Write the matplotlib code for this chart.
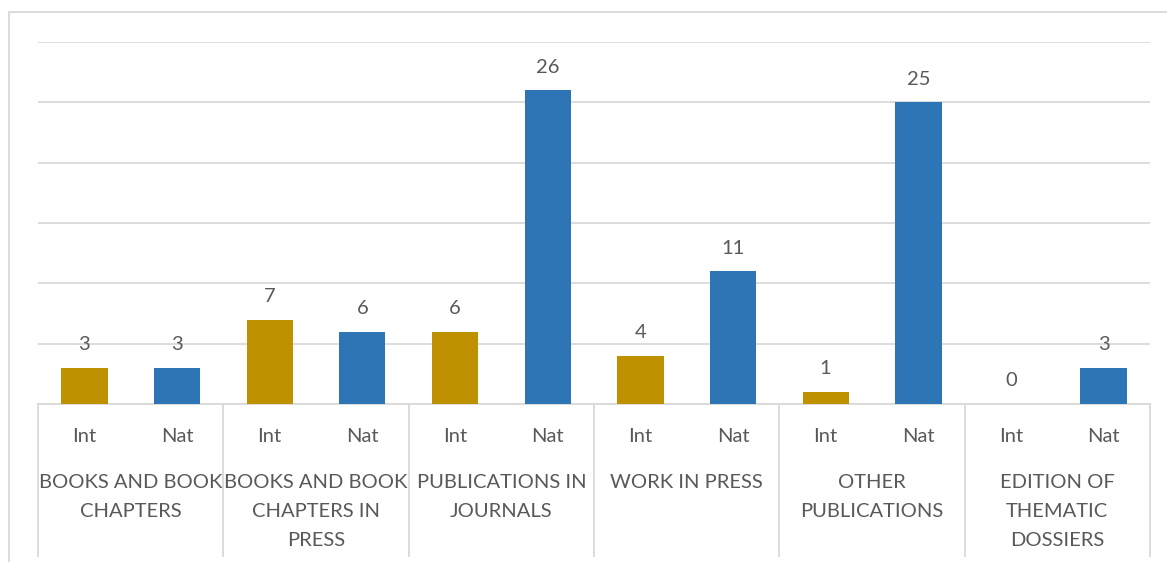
import matplotlib.pyplot as plt
from matplotlib.patches import Rectangle
from matplotlib.lines import Line2D

groups = ['BOOKS AND BOOK\nCHAPTERS', 'BOOKS AND BOOK\nCHAPTERS IN\nPRESS',
          'PUBLICATIONS IN\nJOURNALS', 'WORK IN PRESS', 'OTHER\nPUBLICATIONS',
          'EDITION OF\nTHEMATIC\nDOSSIERS']
subcats = ['Int', 'Nat']
int_vals = [3, 7, 6, 4, 1, 0]
nat_vals = [3, 6, 26, 11, 25, 3]

gold = '#BF9000'
blue = '#2E75B6'
txt = '#595959'
grid = '#D9D9D9'

plt.rcParams['font.family'] = ['Lato', 'DejaVu Sans']

W, H = 1167, 562
fig = plt.figure(figsize=(W / 100, H / 100), dpi=100)
fig.patches.append(Rectangle((9 / W, -0.1), 1.5, (H - 12) / H + 0.1, transform=fig.transFigure,
                             fill=False, edgecolor=grid, linewidth=1.3))

left, right, bottom, top = 38, 1150, 404, 42
ax = fig.add_axes([left / W, (H - bottom) / H, (right - left) / W, (bottom - top) / H])

xs_int = [2 * i for i in range(len(groups))]
xs_nat = [2 * i + 1 for i in range(len(groups))]
bi = ax.bar(xs_int, int_vals, width=0.5, color=gold, zorder=3)
bn = ax.bar(xs_nat, nat_vals, width=0.5, color=blue, zorder=3)

fs = 14.5
for bars, vals in ((bi, int_vals), (bn, nat_vals)):
    for b, v in zip(bars, vals):
        ax.annotate(str(v), (b.get_x() + b.get_width() / 2, v), xytext=(0, 10.5),
                    textcoords='offset points', ha='center', va='bottom',
                    fontsize=fs, color=txt)

ax.set_xlim(-0.5, 2 * len(groups) - 0.5)
ax.set_ylim(0, 30)
ax.set_yticks(range(0, 31, 5))
ax.yaxis.grid(True, color=grid, linewidth=1.3, zorder=0)
ax.set_xticks([])
ax.tick_params(left=False, labelleft=False)
for s in ['top', 'right', 'left']:
    ax.spines[s].set_visible(False)
ax.spines['bottom'].set_color(grid)
ax.spines['bottom'].set_linewidth(1.3)

ppa = bottom - top
def ay(py):
    return (bottom - py) / ppa

trans = ax.get_xaxis_transform()
for i in range(len(groups) + 1):
    x = 2 * i - 0.5
    ax.add_line(Line2D([x, x], [0, ay(556)], transform=trans, color=grid,
                       linewidth=1.3, clip_on=False))
for i, g in enumerate(groups):
    ax.text(2 * i, ay(436), subcats[0], transform=trans, ha='center', va='center',
            fontsize=fs, color=txt)
    ax.text(2 * i + 1, ay(436), subcats[1], transform=trans, ha='center', va='center',
            fontsize=fs, color=txt)
    ax.text(2 * i + 0.5, ay(474), g, transform=trans, ha='center', va='top',
            fontsize=fs, color=txt, linespacing=1.87)

fig.savefig('out.png', dpi=100)
